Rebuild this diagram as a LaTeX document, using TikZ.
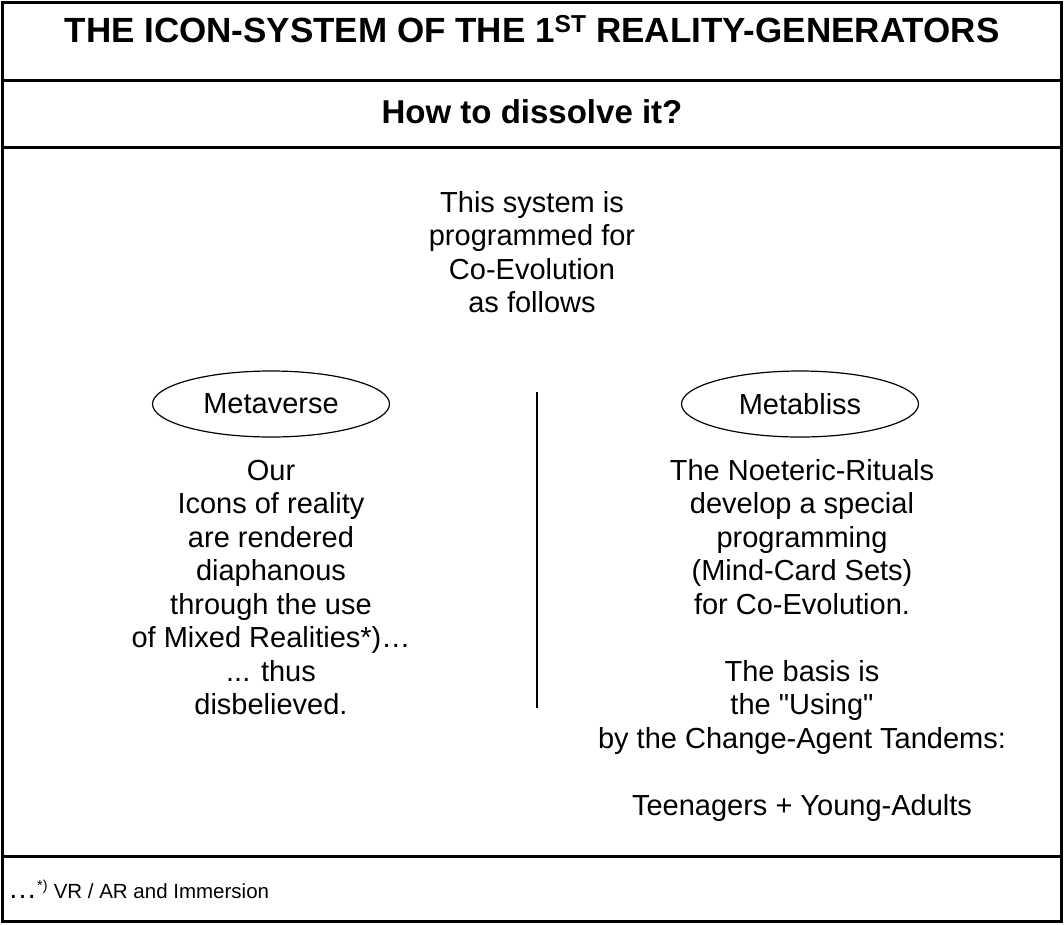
\documentclass[tikz,border=0pt]{standalone}
\usepackage{fontspec}
\setmainfont{Liberation Sans}[Ligatures=TeXOff]
\usetikzlibrary{shapes.geometric}
\newcommand{\firstlinestrut}{\rule{0pt}{22pt}}
\tikzset{
  frameline/.style={line width=3pt, line cap=rect},
  bodytext/.style={align=center, anchor=north, font=\fontsize{29}{33.5}\selectfont, inner sep=0pt},
  oval/.style={ellipse, draw, line width=1.2pt, minimum width=237pt, minimum height=66pt, font=\fontsize{29}{33.5}\selectfont, inner sep=0pt},
}
\begin{document}
\begin{tikzpicture}[x=1pt,y=-1pt]
\useasboundingbox (0,0) rectangle (1064,924);
% frame
\draw[frameline] (2.5,2.5) rectangle (1061.5,921.5);
\coordinate (l1a) at (2.5,80); \coordinate (l1b) at (1061.5,80);
\coordinate (l2a) at (2.5,147); \coordinate (l2b) at (1061.5,147);
\coordinate (l3a) at (2.5,856); \coordinate (l3b) at (1061.5,856);
\draw[frameline] (l1a) -- (l1b);
\draw[frameline] (l2a) -- (l2b);
\draw[frameline] (l3a) -- (l3b);
% title
\node[font=\bfseries\fontsize{35}{40}\selectfont, inner sep=0pt, anchor=base] (title) at (532,42)
  {THE ICON-SYSTEM OF THE 1\textsuperscript{ST} REALITY-GENERATORS};
\node[font=\bfseries\fontsize{33}{38}\selectfont, inner sep=0pt, anchor=base] (sub) at (532,123) {How to dissolve it?};
% intro
\node[bodytext] (intro) at (532,190) {\firstlinestrut This system is\\programmed for\\Co-Evolution\\as follows};
% ellipses
\node[oval] (mv) at (271,404) {Metaverse};
\node[oval] (mb) at (800,404) {Metabliss};
% divider
\coordinate (dt) at (537,392);
\coordinate (db) at (537,708);
\draw[line width=1.5pt] (dt) -- (db);
% left column
\node[bodytext] (left) at (271,458) {\firstlinestrut Our\\Icons of reality\\are rendered\\diaphanous\\through the use\\of Mixed Realities*)…\\... thus\\disbelieved.};
% right column
\node[bodytext] (right) at (802,458) {\firstlinestrut The Noeteric-Rituals\\develop a special\\programming\\(Mind-Card Sets)\\for Co-Evolution.\\[33.5pt]The basis is\\the "Using"\\by the Change-Agent Tandems:\\[33.5pt]Teenagers + Young-Adults};
% footnote
\node[anchor=base west, inner sep=0pt] (foot) at (8,898)
  {\fontsize{29}{33}\selectfont …\fontsize{20.5}{24}\selectfont\textsuperscript{*)} VR / AR and Immersion};
\end{tikzpicture}
\end{document}
